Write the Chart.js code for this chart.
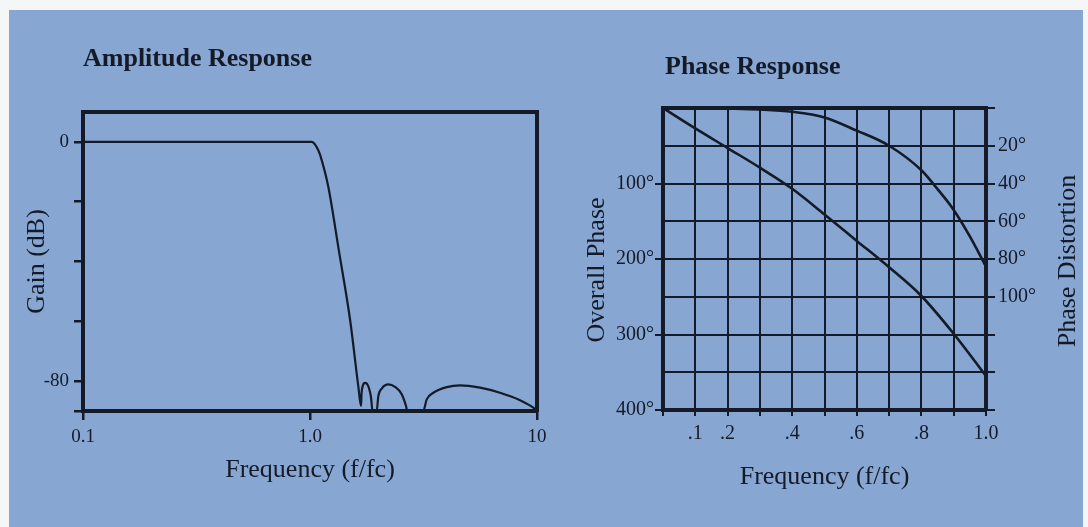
<!DOCTYPE html>
<html><head><meta charset="utf-8">
<script src="https://cdn.jsdelivr.net/npm/chart.js@4/dist/chart.umd.min.js"></script>
<style>
html,body{margin:0;padding:0;background:#f4f6f8;width:1088px;height:527px;overflow:hidden;}
#bg{position:absolute;left:9px;top:10px;width:1074px;height:517px;background:#87a7d2;}
#c1{position:absolute;left:0;top:0;}
#c2{position:absolute;left:560px;top:0;}
</style></head><body>
<div id="bg"></div>
<canvas id="c1" width="560" height="527"></canvas>
<canvas id="c2" width="528" height="527"></canvas>
<script>
// ---------- Amplitude response data ----------
const ampFreq = [0.1, 0.5, 1.0, 1.017, 1.088, 1.126, 1.204, 1.346, 1.501, 1.632, 1.678,
  1.686, 1.712, 1.747, 1.783, 1.820, 1.857, 1.885,
  1.967, 2.000, 2.070, 2.213, 2.368, 2.535, 2.648, 2.683,
  3.156, 3.267, 3.494, 4.002, 4.579, 5.610, 6.871, 8.417, 9.632, 10];
const ampGain = [0, 0, 0, 0, -2.8, -6.1, -15.0, -37.2, -59.4, -81.7, -88.3,
  -84.4, -81.4, -80.6, -80.9, -82.4, -85.4, -90,
  -90, -85.0, -82.5, -81.1, -81.9, -84.4, -88.3, -90,
  -90, -86.1, -83.9, -82.0, -81.4, -82.2, -83.9, -86.4, -88.9, -90];
const ampTickValues = [0.1, 1, 10];
const ampTickLabels = ['0.1', '1.0', '10'];
const gainTickValues = [-90, -80, -60, -40, -20, 0];
const gainTickLabels = ['', '-80', '', '', '', '0'];

// ---------- Phase response data ----------
const phaseFreq = [0, 0.1, 0.2, 0.3, 0.4, 0.5, 0.6, 0.7, 0.8, 0.9, 1.0];
const overallPhase = [0, 27, 53, 79, 107, 141, 176, 211, 249, 299, 355];
const distFreq = [0, 0.1, 0.2, 0.3, 0.4, 0.5, 0.6, 0.7, 0.8, 0.85, 0.9, 0.95, 1.0];
const phaseDistortion = [0, 0, 0.3, 0.8, 2, 5, 12, 20, 33, 43, 54, 68, 84];
const phaseXTickValues = [0, 0.1, 0.2, 0.3, 0.4, 0.5, 0.6, 0.7, 0.8, 0.9, 1.0];
const phaseXTickLabels = ['', '.1', '.2', '', '.4', '', '.6', '', '.8', '', '1.0'];
const overallTickValues = [0, 50, 100, 150, 200, 250, 300, 350, 400];
const overallTickLabels = ['', '', '100°', '', '200°', '', '300°', '', '400°'];
const distortionTickValues = [0, 20, 40, 60, 80, 100, 120, 140, 160];
const distortionTickLabels = ['', '20°', '40°', '60°', '80°', '100°', '', '', ''];

const INK = '#141a28';
const SERIF = "'Liberation Serif', 'DejaVu Serif', serif";

function labelFor(values, labels, v) {
  let best = 0;
  values.forEach((t, i) => { if (Math.abs(t - v) < Math.abs(values[best] - v)) best = i; });
  return labels[best];
}

const textPlugin = {
  id: 'extraText',
  afterDraw(chart, args, opts) {
    const ctx = chart.ctx;
    (opts.items || []).forEach(it => {
      ctx.save();
      ctx.font = it.font;
      ctx.fillStyle = INK;
      ctx.textAlign = it.align || 'left';
      ctx.textBaseline = it.baseline || 'alphabetic';
      ctx.translate(it.x, it.y);
      if (it.rotate) ctx.rotate(it.rotate);
      ctx.fillText(it.text, 0, 0);
      ctx.restore();
    });
  }
};

const borderOnly = (size, horizontal) => ({
  type: 'linear', display: true,
  ticks: { display: false },
  grid: { display: false },
  border: { display: true, width: 4, color: INK, z: 1 },
  afterFit: (s) => { if (horizontal) s.height = size; else s.width = size; }
});

// ---------- Chart 1: Amplitude ----------
new Chart(document.getElementById('c1'), {
  type: 'scatter',
  data: {
    datasets: [{
      data: ampFreq.map((f, i) => ({ x: f, y: ampGain[i] })),
      showLine: true, borderColor: INK, borderWidth: 2.2, pointRadius: 0,
      cubicInterpolationMode: 'monotone', clip: 2
    }]
  },
  options: {
    responsive: false, animation: false, events: [],
    layout: { padding: { top: 92, left: 0, right: 0, bottom: 0 } },
    plugins: {
      legend: { display: false }, tooltip: { enabled: false },
      extraText: { items: [
        { text: 'Amplitude Response', font: 'bold 26px ' + SERIF, x: 83, y: 66 }
      ] }
    },
    scales: {
      x: {
        type: 'logarithmic', position: 'bottom', min: 0.1, max: 10,
        afterBuildTicks: (s) => { s.ticks = ampTickValues.map(v => ({ value: v })); },
        ticks: { callback: (v) => labelFor(ampTickValues, ampTickLabels, v), color: INK,
                 font: { family: SERIF, size: 19 }, padding: 6, autoSkip: false, maxRotation: 0 },
        grid: { drawOnChartArea: false, drawTicks: true, tickLength: 9, color: INK, lineWidth: 2.5 },
        border: { display: true, width: 4, color: INK, z: 1 },
        title: { display: true, text: 'Frequency (f/fc)', color: INK, font: { family: SERIF, size: 26 },
                 padding: { top: 0, bottom: 41 } },
        afterFit: (s) => { s.height = 116; }
      },
      y: {
        type: 'linear', position: 'left', min: -90, max: 10,
        afterBuildTicks: (s) => { s.ticks = gainTickValues.map(v => ({ value: v })); },
        ticks: { callback: (v) => labelFor(gainTickValues, gainTickLabels, v), color: INK,
                 font: { family: SERIF, size: 19 }, padding: 5, autoSkip: false },
        grid: { drawOnChartArea: false, drawTicks: true, tickLength: 9, color: INK, lineWidth: 2.5 },
        border: { display: true, width: 4, color: INK, z: 1 },
        title: { display: true, text: 'Gain (dB)', color: INK, font: { family: SERIF, size: 26 },
                 padding: { top: 22, bottom: 0 } },
        afterFit: (s) => { s.width = 83; }
      },
      xTop: Object.assign(borderOnly(20, true), { position: 'top' }),
      yRight: Object.assign(borderOnly(23, false), { position: 'right' })
    }
  },
  plugins: [textPlugin]
});

// ---------- Chart 2: Phase ----------
new Chart(document.getElementById('c2'), {
  type: 'scatter',
  data: {
    datasets: [
      {
        data: phaseFreq.map((f, i) => ({ x: f, y: overallPhase[i] })), yAxisID: 'y',
        showLine: true, borderColor: INK, borderWidth: 2.6, pointRadius: 0,
        cubicInterpolationMode: 'monotone'
      },
      {
        data: distFreq.map((f, i) => ({ x: f, y: phaseDistortion[i] })), yAxisID: 'y2',
        showLine: true, borderColor: INK, borderWidth: 2.6, pointRadius: 0,
        cubicInterpolationMode: 'monotone'
      }
    ]
  },
  options: {
    responsive: false, animation: false, events: [],
    layout: { padding: { top: 88, left: 0, right: 0, bottom: 0 } },
    plugins: {
      legend: { display: false }, tooltip: { enabled: false },
      extraText: { items: [
        { text: 'Phase Response', font: 'bold 26px ' + SERIF, x: 105, y: 74 },
        { text: 'Overall Phase', font: '26px ' + SERIF, x: 37, y: 270, rotate: -Math.PI / 2,
          align: 'center', baseline: 'middle' },
        { text: 'Phase Distortion', font: '26px ' + SERIF, x: 508, y: 261, rotate: -Math.PI / 2,
          align: 'center', baseline: 'middle' }
      ] }
    },
    scales: {
      x: {
        type: 'linear', position: 'bottom', min: 0, max: 1,
        afterBuildTicks: (s) => { s.ticks = phaseXTickValues.map(v => ({ value: v })); },
        ticks: { callback: (v) => labelFor(phaseXTickValues, phaseXTickLabels, v), color: INK,
                 font: { family: SERIF, size: 20 }, padding: 6, autoSkip: false, maxRotation: 0 },
        grid: { drawOnChartArea: true, drawTicks: true, tickLength: 6, color: INK, lineWidth: 2 },
        border: { display: true, width: 4, color: INK, z: 1 },
        title: { display: true, text: 'Frequency (f/fc)', color: INK, font: { family: SERIF, size: 26 },
                 padding: { top: 0, bottom: 34 } },
        afterFit: (s) => { s.height = 117; }
      },
      y: {
        type: 'linear', position: 'left', reverse: true, min: 0, max: 400,
        afterBuildTicks: (s) => { s.ticks = overallTickValues.map(v => ({ value: v })); },
        ticks: { callback: (v) => labelFor(overallTickValues, overallTickLabels, v), color: INK,
                 font: { family: SERIF, size: 20 }, padding: 1, autoSkip: false },
        grid: { drawOnChartArea: true, drawTicks: true, tickLength: 8, color: INK, lineWidth: 2,
                tickColor: (c) => (c.tick && labelFor(overallTickValues, overallTickLabels, c.tick.value)
                                   ? INK : 'rgba(0,0,0,0)') },
        border: { display: true, width: 4, color: INK, z: 1 },
        afterFit: (s) => { s.width = 103; }
      },
      y2: {
        type: 'linear', position: 'right', reverse: true, min: 0, max: 160,
        afterBuildTicks: (s) => { s.ticks = distortionTickValues.map(v => ({ value: v })); },
        ticks: { callback: (v) => labelFor(distortionTickValues, distortionTickLabels, v), color: INK,
                 font: { family: SERIF, size: 20 }, padding: 3, autoSkip: false },
        grid: { drawOnChartArea: false, drawTicks: true, tickLength: 9, color: INK, lineWidth: 2 },
        border: { display: true, width: 4, color: INK, z: 1 },
        afterFit: (s) => { s.width = 102; }
      },
      xTop: Object.assign(borderOnly(20, true), { position: 'top' })
    }
  },
  plugins: [textPlugin]
});
</script>
</body></html>
